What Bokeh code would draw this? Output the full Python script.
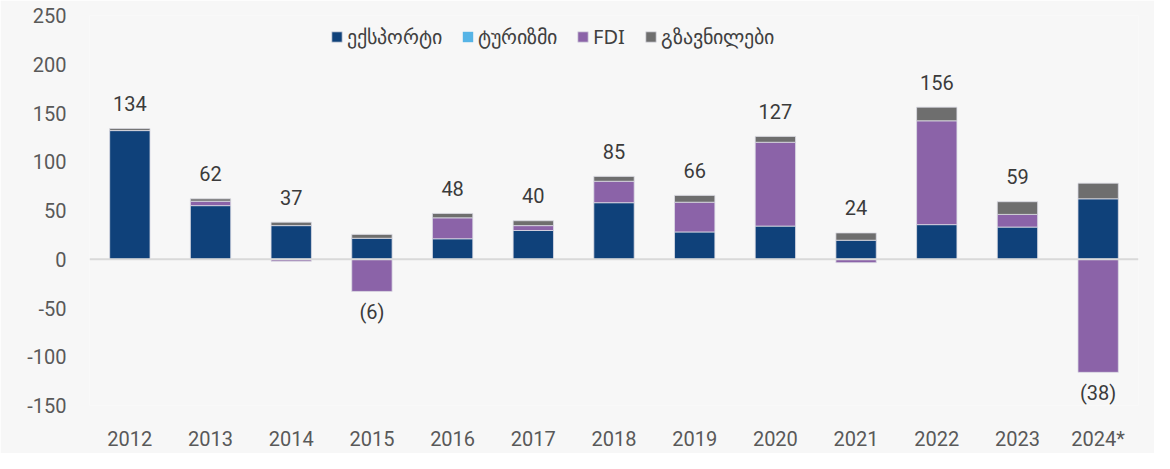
import numpy as np
from bokeh.plotting import figure
from bokeh.models import (FactorRange, Range1d, FixedTicker, Span, Legend, LegendItem,
                          ColumnDataSource)
from bokeh.core.properties import value
from bokeh.embed import file_html
from bokeh.resources import INLINE

# ---- data ----
years = ["2012", "2013", "2014", "2015", "2016", "2017", "2018", "2019",
         "2020", "2021", "2022", "2023", "2024*"]
export = [132, 55, 34.5, 21.5, 21, 29.5, 58, 28, 34, 19.5, 35.5, 33, 62]
tourism = [0, 0, 0, 0, 0, 0, 0, 0, 0, 0, 0, 0, 0]
fdi = [0, 4.5, -2, -33, 21.5, 5, 22, 30.5, 86, -3.5, 106.5, 13, -116]
remit = [2, 2.5, 3.5, 4, 4.5, 5, 5, 7, 6, 7.5, 14, 13, 16]
totals = [134, 62, 37, -6, 48, 40, 85, 66, 127, 24, 156, 59, -38]
series_names = ["ექსპორტი", "ტურიზმი", "FDI", "გზავნილები"]
y_ticks = [-150, -100, -50, 0, 50, 100, 150, 200, 250]
y_tick_labels = ["-150", "-100", "-50", "0", "50", "100", "150", "200", "250"]

colors = ["#0f417a", "#56b4e6", "#8b63a8", "#6e6e6e"]
BG = "#f7f7f7"
FONT = "Roboto"

p = figure(x_range=FactorRange(*years, range_padding=0), y_range=Range1d(-150, 250),
           width=1154, height=453, output_backend="svg", toolbar_location=None,
           min_border_left=89, min_border_right=16, min_border_top=15, min_border_bottom=46)
p.background_fill_color = BG
p.border_fill_color = BG
p.outline_line_color = None
p.xgrid.grid_line_color = None
p.ygrid.grid_line_color = None

# ---- stacked bars (positive and negative stacked separately) ----
all_series = [np.array(export, float), np.array(tourism, float),
              np.array(fdi, float), np.array(remit, float)]
pos_base = np.zeros(len(years))
neg_base = np.zeros(len(years))
renderers = []
for vals, col, name in zip(all_series, colors, series_names):
    pos = np.where(vals > 0, vals, 0)
    neg = np.where(vals < 0, vals, 0)
    bottom = np.where(vals >= 0, pos_base, neg_base + neg)
    top = np.where(vals >= 0, pos_base + pos, neg_base)
    pos_base = pos_base + pos
    neg_base = neg_base + neg
    src = ColumnDataSource(dict(x=years, bottom=bottom, top=top))
    lc = None if name == "ტურიზმი" else "#dcdce4"
    r = p.vbar(x="x", bottom="bottom", top="top", width=0.5, source=src,
               fill_color=col, line_color=lc, line_width=0.8)
    renderers.append(r)

# zero line
p.add_layout(Span(location=0, dimension="width", line_color="#d9d9d9", line_width=2))

# ---- total labels ----
tot = np.array(totals, float)
lab_text = [str(int(t)) if t >= 0 else "(%d)" % abs(int(t)) for t in totals]
pos_mask = tot >= 0
src_pos = ColumnDataSource(dict(x=[y for y, m in zip(years, pos_mask) if m],
                                y=pos_base[pos_mask],
                                t=[s for s, m in zip(lab_text, pos_mask) if m]))
src_neg = ColumnDataSource(dict(x=[y for y, m in zip(years, pos_mask) if not m],
                                y=neg_base[~pos_mask],
                                t=[s for s, m in zip(lab_text, pos_mask) if not m]))
p.text(x="x", y="y", text="t", source=src_pos, text_align="center",
       text_baseline="alphabetic", y_offset=-25, text_font=value(FONT),
       text_font_size="20px", text_color="#3b3b3b")
p.text(x="x", y="y", text="t", source=src_neg, text_align="center",
       text_baseline="top", y_offset=9, text_font=value(FONT),
       text_font_size="20px", text_color="#3b3b3b")

# ---- axes ----
for ax in (p.xaxis[0], p.yaxis[0]):
    ax.axis_line_color = None
    ax.major_tick_line_color = None
    ax.minor_tick_line_color = None
    ax.major_tick_out = 0
    ax.major_tick_in = 0
    ax.major_label_text_font = FONT
    ax.major_label_text_font_size = "20px"
    ax.major_label_text_color = "#595959"
p.xaxis[0].major_label_standoff = 21
p.yaxis[0].major_label_standoff = 23
p.yaxis[0].ticker = FixedTicker(ticks=y_ticks)
p.yaxis[0].major_label_overrides = {t: l for t, l in zip(y_ticks, y_tick_labels)}

# ---- legend ----
legend = Legend(items=[LegendItem(label=n, renderers=[r]) for n, r in zip(series_names, renderers)],
                orientation="horizontal", location=(241, 355),
                background_fill_alpha=0, border_line_color=None,
                padding=0, margin=0, spacing=19, glyph_width=13, glyph_height=13,
                label_standoff=4, label_text_font="Noto Sans",
                label_text_font_size="20px", label_text_color="#404040")
p.add_layout(legend)

open("out.html", "w").write(file_html(p, INLINE))
